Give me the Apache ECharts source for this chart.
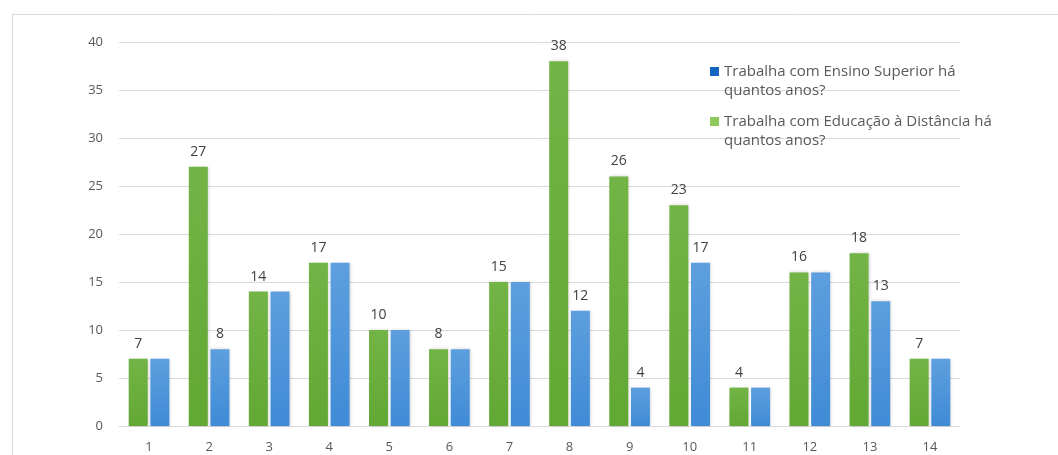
<!DOCTYPE html>
<html>
<head>
<meta charset="utf-8">
<script src="https://cdn.jsdelivr.net/npm/echarts@6/dist/echarts.min.js"></script>
<style>
  html, body { margin: 0; padding: 0; background: #fff; }
  #chart { width: 1058px; height: 455px; }
</style>
</head>
<body>
<div id="chart"></div>
<script>
  // categories and values
  const categories = ['1', '2', '3', '4', '5', '6', '7', '8', '9', '10', '11', '12', '13', '14'];
  const eadName = 'Trabalha com Educação à Distância há quantos anos?';
  const superiorName = 'Trabalha com Ensino Superior há quantos anos?';
  const eadValues = [7, 27, 14, 17, 10, 8, 15, 38, 26, 23, 4, 16, 18, 7];
  const superiorValues = [7, 8, 14, 17, 10, 8, 15, 12, 4, 17, 4, 16, 13, 7];
  const yTicks = { min: 0, max: 40, interval: 5 };

  const chart = echarts.init(document.getElementById('chart'));

  const font = '"Open Sans", "Noto Sans", sans-serif';
  const gradient = (top, bottom) => new echarts.graphic.LinearGradient(0, 0, 0, 1, [
    { offset: 0, color: top },
    { offset: 1, color: bottom }
  ]);
  // square sitting on the first line of a two line legend label
  const legendIcon = 'path://M0 5H9V14H0Z M0 0 M0 38';

  const option = {
    animation: false,
    textStyle: { fontFamily: font },
    graphic: [{
      type: 'rect',
      shape: { x: 12.5, y: 14.5, width: 1060, height: 460 },
      style: { fill: 'none', stroke: '#d9d9d9', lineWidth: 1 },
      silent: true
    }],
    grid: { left: 119, right: 98, top: 42, bottom: 29 },
    legend: {
      orient: 'vertical',
      left: 705,
      top: 57,
      itemGap: 12,
      itemWidth: 9,
      itemHeight: 38,
      icon: legendIcon,
      data: [
        { name: superiorName, itemStyle: { color: '#1565c0' } },
        { name: eadName, itemStyle: { color: '#8fc85a' } }
      ],
      formatter: name => name.replace(' quantos', '\nquantos'),
      textStyle: { color: '#595959', fontSize: 15, lineHeight: 19, fontFamily: font }
    },
    xAxis: {
      type: 'category',
      data: categories,
      axisLine: { lineStyle: { color: '#d9d9d9' } },
      axisTick: { show: false },
      axisLabel: { color: '#595959', fontSize: 13, margin: 15 }
    },
    yAxis: {
      type: 'value',
      min: yTicks.min,
      max: yTicks.max,
      interval: yTicks.interval,
      axisLine: { show: false },
      axisTick: { show: false },
      splitLine: { lineStyle: { color: '#d9d9d9' } },
      axisLabel: { color: '#595959', fontSize: 13, margin: 16 }
    },
    series: [{
      name: eadName,
      type: 'bar',
      data: eadValues,
      barWidth: 19,
      barGap: '14%',
      itemStyle: {
        color: gradient('#72b446', '#62a834'),
        shadowColor: 'rgba(0,0,0,0.18)',
        shadowBlur: 3,
        shadowOffsetX: 1
      },
      label: {
        show: true,
        position: 'top',
        distance: 8,
        color: '#404040',
        fontSize: 14
      }
    }, {
      name: superiorName,
      type: 'bar',
      data: superiorValues,
      barWidth: 19,
      itemStyle: {
        color: gradient('#5d9fde', '#3f8bd6'),
        shadowColor: 'rgba(0,0,0,0.18)',
        shadowBlur: 3,
        shadowOffsetX: 1
      },
      label: {
        show: true,
        position: 'top',
        distance: 8,
        color: '#404040',
        fontSize: 14,
        // the blue label is hidden where it matches the green one
        formatter: p => (p.value === eadValues[p.dataIndex] ? '' : String(p.value))
      }
    }]
  };

  chart.setOption(option);
</script>
</body>
</html>
